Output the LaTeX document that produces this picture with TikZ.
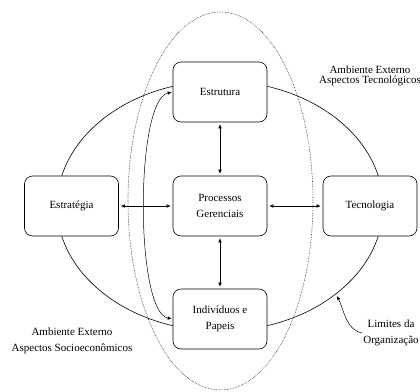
\documentclass[tikz,border=0pt]{standalone}
\usepackage{fontspec}
\setmainfont{Liberation Serif}
\newfontfamily\diagramfont{Liberation Serif}
\usetikzlibrary{arrows.meta, positioning}

\begin{document}
\begin{tikzpicture}[x=1pt, y=-1pt, >={Latex[length=4pt,width=3.5pt]}, every node/.style={font=\diagramfont\fontsize{11}{16.5}\selectfont}]
	\tikzstyle{subsystem}=[draw=black, line width=0.6pt, rounded corners=8pt, minimum height=60pt, minimum width=94pt, fill=white, text=black, align=center]
	\tikzstyle{environment}=[align=center, text=black, inner sep=1pt]
	\tikzstyle{link}=[<->, line width=0.5pt, shorten <=2pt, shorten >=2pt]
	\useasboundingbox (0,0) rectangle (420,391);

	% limites da organizacao
	\draw [line width=0.6pt] (220,206) ellipse [x radius=163pt, y radius=125pt];
	% nucleo
	\draw [densely dotted, black!85, line width=0.6pt] (220.5,201) ellipse [x radius=92.5pt, y radius=189pt];

	\node (estrutura) at (220,92) [subsystem] {Estrutura};
	\node (processos) at (220,206) [subsystem] {Processos\\Gerenciais};
	\node (individuos) at (220,319) [subsystem] {Indivíduos e\\Papeis};
	\node (estrategia) at (71.5,206) [subsystem] {Estratégia};
	\node (tecnologia) at (370,206) [subsystem] {Tecnologia};

	\draw [link] (estrutura) -- (processos);
	\draw [link] (processos) -- (individuos);
	\draw [link] (estrategia) -- (processos);
	\draw [link] (processos) -- (tecnologia);
	\draw [<->, line width=0.5pt, shorten <=1pt, shorten >=1pt] (estrutura.west) .. controls (135,100) and (135,312) .. (individuos.west);

	\node (tecnologicos) at (370,76) [environment, font=\diagramfont\fontsize{11}{10.5}\selectfont] {Ambiente Externo\\Aspectos Tecnológicos};
	\node (socioeconomicos) at (72,341) [environment] {Ambiente Externo\\Aspectos Socioeconômicos};
	\node (limites) at (391,333) [environment] {Limites da\\Organização};

	\coordinate (borda) at (337,296);
	\draw [->, line width=0.5pt] (limites.west) .. controls (346,330) and (344,310) .. (borda);
%	\draw [->] (limites.north west) -- (borda);

\end{tikzpicture}
\end{document}
